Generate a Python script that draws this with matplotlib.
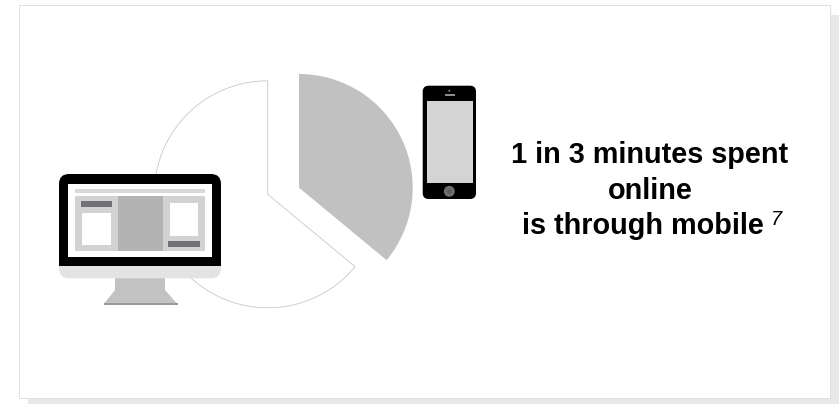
import matplotlib
matplotlib.use("Agg")
import matplotlib.pyplot as plt
from matplotlib.patches import Rectangle, FancyBboxPatch, Circle, Polygon

plt.rcParams["font.family"] = ["Liberation Sans", "DejaVu Sans"]

# Share of online minutes
slice_labels = ["Mobile", "Other"]
slice_values = [36, 64]
headline = ["1 in 3 minutes spent", "online", "is through mobile"]
footnote = "7"

W, H = 839, 404

fig = plt.figure(figsize=(W / 100, H / 100), dpi=100, facecolor="#fefefe")
ax = fig.add_axes([0, 0, 1, 1])


def box(x0, y0, x1, y1, color, z=3):
    # y is measured from the top edge
    ax.add_patch(Rectangle((x0, H - y1), x1 - x0, y1 - y0, fc=color, ec="none", zorder=z))


def rounded(x0, y0, x1, y1, r, color, z=3):
    ax.add_patch(FancyBboxPatch((x0 + r, H - y1 + r), x1 - x0 - 2 * r, y1 - y0 - 2 * r,
                                boxstyle=f"round,pad={r},rounding_size={r}",
                                fc=color, ec="none", zorder=z))


# Card with drop shadow
box(28, 15, 839, 404, "#e8e8e8", 0)
box(18.5, 5, 830.5, 399, "#e0e0e0", 1)
box(19.5, 6, 829.5, 398, "#ffffff", 1)

# Exploded pie: each slice has its own centre
mobile, _ = ax.pie(slice_values, center=(299, H - 187.7), radius=113.7, startangle=90,
                   counterclock=False, colors=["#c1c1c1", "none"], frame=True)
other, _ = ax.pie(slice_values, center=(267.7, H - 194.3), radius=113.5, startangle=90,
                  counterclock=False, colors=["none", "#ffffff"], frame=True,
                  wedgeprops={"edgecolor": "#c8c8c8", "linewidth": 0.6})
other[0].set_visible(False)
mobile[1].set_visible(False)
for w in mobile + other:
    w.set_zorder(2)

# Desktop monitor
ax.add_patch(Polygon([(115, H - 277), (165, H - 277), (165, H - 290), (177.7, H - 304.5),
                      (103.3, H - 304.5), (115, H - 290)], fc="#c2c2c2", ec="none", zorder=3))
box(103.5, 303.3, 177.5, 304.6, "#9a9a9a", 4)
rounded(59, 240, 221, 278.3, 10, "#e2e3e4", 3)
rounded(59, 174, 221, 240, 10, "#000000", 4)
box(59, 230, 221, 266, "#000000", 4)
box(68.3, 184, 212, 256.7, "#ffffff", 5)
box(75.3, 189.3, 205, 193.3, "#d9d9d9", 6)
box(75.3, 196, 205, 250.7, "#d2d2d2", 6)
box(117.7, 196, 162.7, 250.7, "#b2b3b2", 7)
box(80.7, 201.3, 112.3, 207, "#727276", 7)
box(82.3, 212.7, 110.7, 245, "#ffffff", 7)
box(170, 202.7, 198.3, 235.7, "#ffffff", 7)
box(168.3, 241, 200, 246.7, "#727276", 7)

# Phone
rounded(422.7, 85.7, 476, 199, 6, "#000000", 3)
box(426.7, 101.3, 472.7, 183.3, "#d4d4d4", 4)
box(444.7, 94.3, 454.7, 95.8, "#8c8c8c", 4)
ax.add_patch(Circle((449.3, H - 90.7), 1, fc="#8c8c8c", ec="none", zorder=4))
ax.add_patch(Circle((449.3, H - 191.3), 5.5, fc="#6e6e70", ec="none", zorder=4))
ax.add_patch(Circle((449.3, H - 191.3), 2.2, fc="#5c5c5e", ec="none", zorder=5))

# Headline: last line sits left to leave room for the footnote mark
for line, x, y in zip(headline, [649.5, 650, 642.5], [163.3, 199, 233.5]):
    ax.text(x, H - y, line, ha="center", va="baseline", fontsize=20.8,
            fontweight="bold", color="#000000", zorder=6)
ax.text(771, H - 225, footnote, ha="left", va="baseline", fontsize=14.4,
        fontstyle="italic", color="#000000", zorder=6)

ax.set_xlim(0, W)
ax.set_ylim(0, H)
ax.set_aspect("auto")
ax.axis("off")

fig.savefig("out.png", dpi=100, facecolor=fig.get_facecolor())
